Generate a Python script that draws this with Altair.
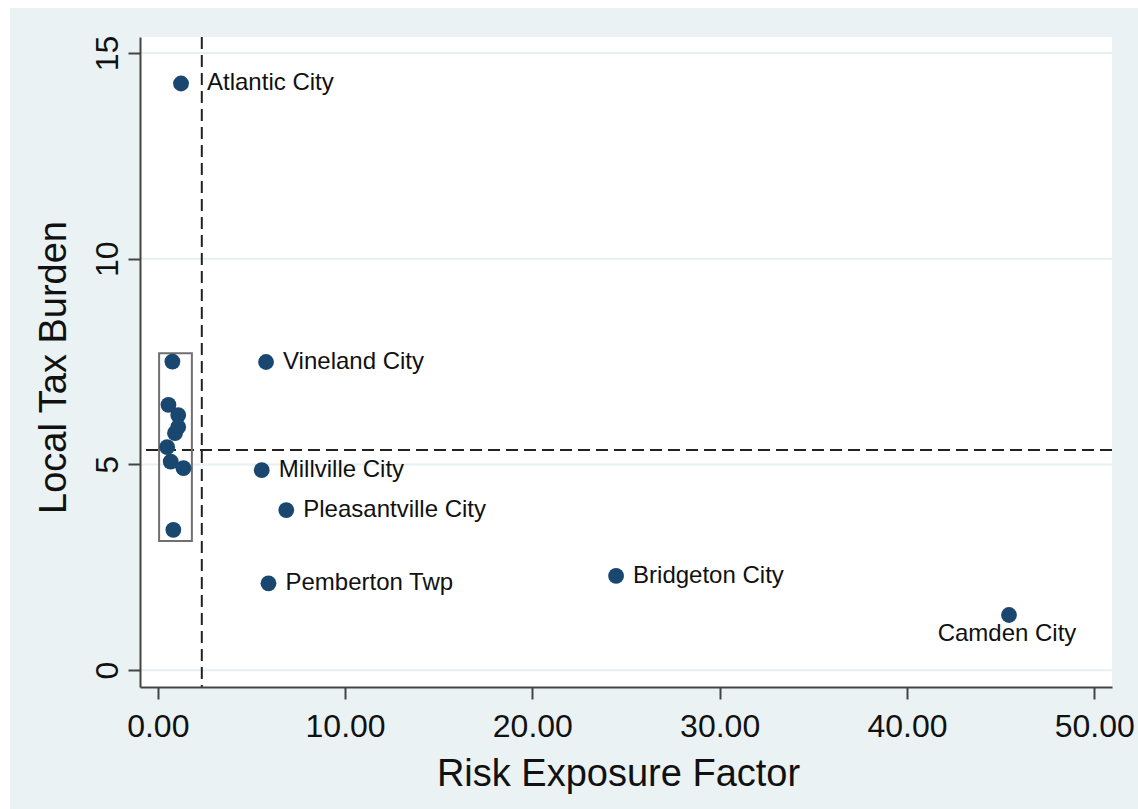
import altair as alt
import pandas as pd

# Labelled municipalities
names = ["Atlantic City", "Vineland City", "Millville City", "Pleasantville City",
         "Pemberton Twp", "Bridgeton City", "Camden City"]
risk = [1.24, 5.78, 5.55, 6.86, 5.91, 24.47, 45.45]
tax = [14.26, 7.49, 4.86, 3.89, 2.11, 2.29, 1.34]

# Unlabelled low-risk cluster
cluster_risk = [0.78, 0.57, 1.09, 1.09, 0.92, 0.50, 0.69, 1.37, 0.83]
cluster_tax = [7.50, 6.45, 6.20, 5.91, 5.76, 5.42, 5.07, 4.91, 3.41]

# Reference lines and cluster box
x_ref = 2.35
y_ref = 5.35
box_risk = [0.07, 1.82]
box_tax = [3.14, 7.70]

x_ticks = [0, 10, 20, 30, 40, 50]
y_ticks = [0, 5, 10, 15]

W, H = 972, 650
NAVY = "#1a476f"
PANEL = "#eaf2f3"
INK = "#111111"
FONT = "Liberation Sans"

labeled = pd.DataFrame({"name": names, "risk": risk, "tax": tax})
points = pd.DataFrame({"risk": risk + cluster_risk, "tax": tax + cluster_tax})

xs = alt.Scale(domain=[-0.95, 50.95], nice=False, zero=False)
ys = alt.Scale(domain=[-0.41, 15.39], nice=False, zero=False)

x_axis = alt.Axis(values=x_ticks, format=".2f", title="Risk Exposure Factor", grid=False,
                  zindex=1, labelBaseline="alphabetic", labelPadding=37,
                  titleBaseline="alphabetic", titleY=98, titleX=478)
y_axis = alt.Axis(values=y_ticks, format="d", title="Local Tax Burden", grid=False,
                  zindex=1, labelAngle=270, labelAlign="center", labelBaseline="alphabetic",
                  labelPadding=11, titleAngle=270, titleAlign="center",
                  titleBaseline="alphabetic", titleX=-75, titleY=330)


def X(field):
    return alt.X(f"{field}:Q", scale=xs, axis=x_axis)


def Y(field):
    return alt.Y(f"{field}:Q", scale=ys, axis=y_axis)


one = pd.DataFrame({"k": [0]})

# Outer panel and white plot region
panel = alt.Chart(one).mark_rect(color=PANEL).encode(
    x=alt.value(-130), x2=alt.value(998), y=alt.value(-29), y2=alt.value(772))
plot_bg = alt.Chart(one).mark_rect(color="white").encode(
    x=alt.value(0), x2=alt.value(W), y=alt.value(0), y2=alt.value(H))

grid = alt.Chart(pd.DataFrame({"tax": y_ticks})).mark_rule(
    color="#e6eff1", strokeWidth=2).encode(y=Y("tax"))

vline = alt.Chart(pd.DataFrame({"risk": [x_ref]})).mark_rule(
    color="#222222", strokeWidth=2, strokeDash=[12, 6]).encode(x=X("risk"))
hline = alt.Chart(pd.DataFrame({"tax": [y_ref]})).mark_rule(
    color="#222222", strokeWidth=2, strokeDash=[12, 6]).encode(y=Y("tax"))

box = alt.Chart(pd.DataFrame({"x0": [box_risk[0]], "x1": [box_risk[1]],
                              "y0": [box_tax[0]], "y1": [box_tax[1]]})).mark_rect(
    fillOpacity=0, stroke="#707070", strokeWidth=2).encode(
    x=X("x0"), x2="x1", y=Y("y0"), y2="y1")

dots = alt.Chart(points).mark_circle(size=250, color=NAVY, opacity=1).encode(
    x=X("risk"), y=Y("tax"))

text_base = alt.Chart(labeled)
right_labels = text_base.transform_filter(
    "datum.name !== 'Camden City' && datum.name !== 'Atlantic City'").mark_text(
    align="left", baseline="middle", dx=17, fontSize=24, font=FONT, color=INK).encode(
    x=X("risk"), y=Y("tax"), text="name:N")
top_label = text_base.transform_filter("datum.name === 'Atlantic City'").mark_text(
    align="left", baseline="middle", dx=26, fontSize=24, font=FONT, color=INK).encode(
    x=X("risk"), y=Y("tax"), text="name:N")
below_label = text_base.transform_filter("datum.name === 'Camden City'").mark_text(
    align="center", baseline="middle", dx=-2, dy=19, fontSize=24, font=FONT, color=INK).encode(
    x=X("risk"), y=Y("tax"), text="name:N")

chart = alt.layer(
    panel, plot_bg, grid, vline, hline, box, dots, right_labels, top_label, below_label
).properties(
    width=W, height=H,
    padding={"left": 10, "top": 8, "right": 0, "bottom": 0},
    background="white",
).configure_view(
    strokeWidth=0
).configure_axis(
    domainColor="#444444", domainWidth=2, tickColor="#444444", tickWidth=2, tickSize=12,
    labelFont=FONT, labelFontSize=32, labelColor=INK,
    titleFont=FONT, titleFontSize=38, titleColor=INK, titleFontWeight="normal",
)

chart.save("out.html", embed_options={"renderer": "svg", "actions": False})
